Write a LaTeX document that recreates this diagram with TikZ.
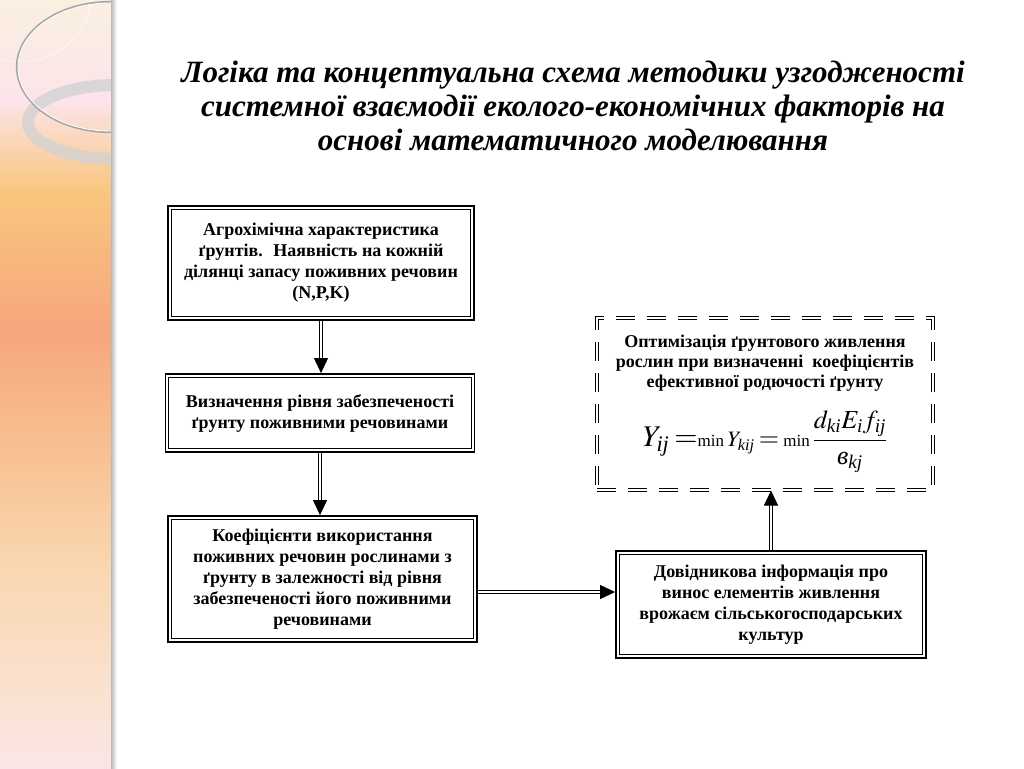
\documentclass[tikz,border=0pt]{standalone}
\usepackage{mathptmx}
\usepackage{amsmath}
\usepackage[no-math]{fontspec}
\setmainfont{Liberation Serif}
\newfontfamily\formfont{Liberation Serif}
\usetikzlibrary{arrows.meta, positioning}
\definecolor{sA}{HTML}{FAF0E0}
\definecolor{sB}{HTML}{FCE4EA}
\definecolor{sC}{HTML}{F9C67E}
\definecolor{sD}{HTML}{F7A67C}
\definecolor{sE}{HTML}{F8BC8E}
\definecolor{sF}{HTML}{F9D6AE}
\definecolor{sG}{HTML}{FAE2D2}
\definecolor{sH}{HTML}{FBE4E6}
\pgfdeclareverticalshading{stripshade}{100bp}{color(0bp)=(sH); color(25bp)=(sH); color(29.5bp)=(sG); color(38.5bp)=(sF); color(47bp)=(sE); color(53.5bp)=(sD); color(62.5bp)=(sC); color(68.5bp)=(sB); color(75bp)=(sA); color(100bp)=(sA)}
\newcommand{\ix}[1]{\text{\formfont\itshape #1}}
\tikzstyle{block} = [rectangle, draw=black, line width=1.8pt, align=center, font=\bfseries\fontsize{18}{21}\selectfont,
  path picture={\draw[line width=0.8pt] ([shift={(3.3pt,-3.3pt)}]path picture bounding box.north west) rectangle ([shift={(-3.3pt,3.3pt)}]path picture bounding box.south east);}]
\tikzstyle{optim} = [rectangle, draw=black, double, double distance=1.8pt, line width=1pt, dash pattern=on 19pt off 12pt, align=center, font=\bfseries\fontsize{18}{20}\selectfont, minimum width=336pt, minimum height=172pt]
\tikzstyle{arrow} = [double, double distance=2.4pt, line width=1pt, -{Triangle[length=15pt,width=14pt]}]

\begin{document}
\begin{tikzpicture}[x=1pt, y=-1pt]
  \useasboundingbox (0,0) rectangle (1024,768);
  \fill[white] (0,0) rectangle (1024,768);
  % left strip
  \shade[shading=stripshade] (0,0) rectangle (111,768);
  \shade[left color=gray!55, right color=white] (111,0) rectangle (117,768);
  \begin{scope}
    \clip (0,0) rectangle (111,768);
    \draw[white, line width=1pt, opacity=0.5] (20,-10) circle (72);
    \draw[gray!35, line width=12pt, opacity=0.8] (116,122) ellipse (88 and 37);
    \draw[gray!70, line width=2.2pt] (110,67) ellipse (93 and 65);
    \draw[white, line width=0.9pt] (110,67) ellipse (92 and 64);
  \end{scope}

  % title
  \node (title) at (573,106) [align=center, font=\bfseries\itshape\fontsize{31}{34}\selectfont]
    {Логіка та концептуальна схема методики узгодженості\\
     системної взаємодії еколого-економічних факторів на\\
     основі математичного моделювання};

  % boxes
  \node (agro) at (321,263) [block, minimum width=306pt, minimum height=114pt]
    {Агрохімічна характеристика\\ ґрунтів.~ Наявність на кожній\\ ділянці запасу поживних речовин\\ (N,P,K)};
  \node (rivn) at (320,413) [block, minimum width=309pt, minimum height=78pt]
    {Визначення рівня забезпеченості\\ ґрунту поживними речовинами};
  \node (koef) at (322.5,579) [block, minimum width=309pt, minimum height=126pt]
    {Коефіцієнти використання\\ поживних речовин рослинами з\\ ґрунту в залежності від рівня\\ забезпеченості його поживними\\ речовинами};
  \node (dovid) at (771,604.5) [block, minimum width=310pt, minimum height=107pt]
    {Довідникова інформація про\\ винос елементів живлення\\ врожаєм сільськогосподарських\\ культур};
  \node (optim) at (765,404) [optim]
    {Оптимізація ґрунтового живлення\\ рослин при визначенні~ коефіцієнтів\\ ефективної родючості ґрунту\\[18pt]
     \mdseries
     {\fontsize{30}{30}\selectfont$Y_{\ix{ij}}$\,$=$}{\fontsize{17}{18}\selectfont min}{\fontsize{22}{22}\selectfont\,$Y_{\ix{kij}}$}%
     {\fontsize{26}{26}\selectfont\,$=$\,}{\fontsize{17}{18}\selectfont min\,}%
     {\fontsize{26}{26}\selectfont$\displaystyle\frac{d_{\ix{ki}}E_{\ix{i}}f_{\ix{ij}}}{\text{\formfont\itshape в}_{\ix{kj}}}$}};

  % connectors
  \draw [arrow] (agro) -- (agro |- rivn.north);
  \draw [arrow] (rivn) -- (rivn |- koef.north);
  \draw [arrow] ([yshift=-13pt]koef.east) -- ([yshift=-13pt]koef.east -| dovid.west);
  \draw [arrow] (dovid.north) -- (dovid.north |- optim.south);
\end{tikzpicture}
\end{document}
